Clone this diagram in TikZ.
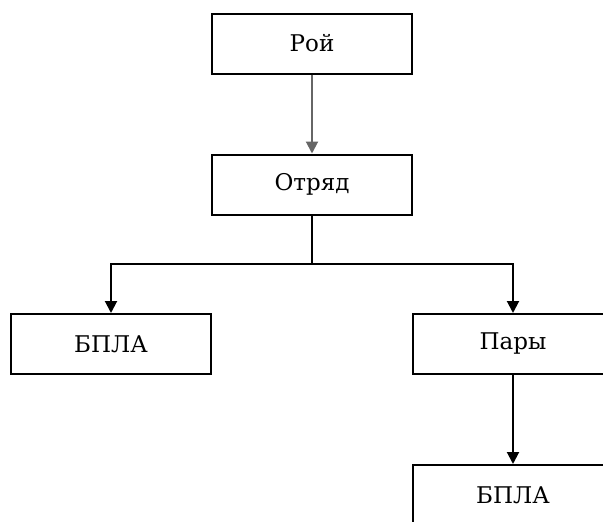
\documentclass[tikz,border=0pt]{standalone}
\usepackage{fontspec}
\setmainfont{DejaVu Serif}
\usetikzlibrary{arrows.meta}
\begin{document}
\begin{tikzpicture}[x=1pt,y=-1pt,
  box/.style={draw=black,line width=2pt,minimum width=200pt,minimum height=60pt,inner sep=0pt,font=\fontsize{23}{27}\selectfont},
  conn/.style={line width=2pt,-{Triangle[length=12pt,width=12pt]}}]
\fill[white] (0,0) rectangle (603,522);
\useasboundingbox (0,0) rectangle (603,522);
\begin{scope}
\clip (0,0) rectangle (603,522);
\node[box] (roy) at (312,43.5) {Рой};
\node[box] (otr) at (312,184.5) {Отряд};
\node[box] (bpla1) at (111,344) {БПЛА};
\node[box] (pary) at (513,344) {Пары};
\node[box] (bpla2) at (513,495) {БПЛА};
\coordinate (j) at (312,264);
\draw[conn,draw=black!60,fill=black] (roy.south) -- (otr.north);
\draw[line width=2pt] (otr.south) -- (j);
\draw[conn] (j) -| (bpla1.north);
\draw[conn] (j) -| (pary.north);
\draw[conn] (pary) -- (bpla2);
\end{scope}
\end{tikzpicture}
\end{document}
